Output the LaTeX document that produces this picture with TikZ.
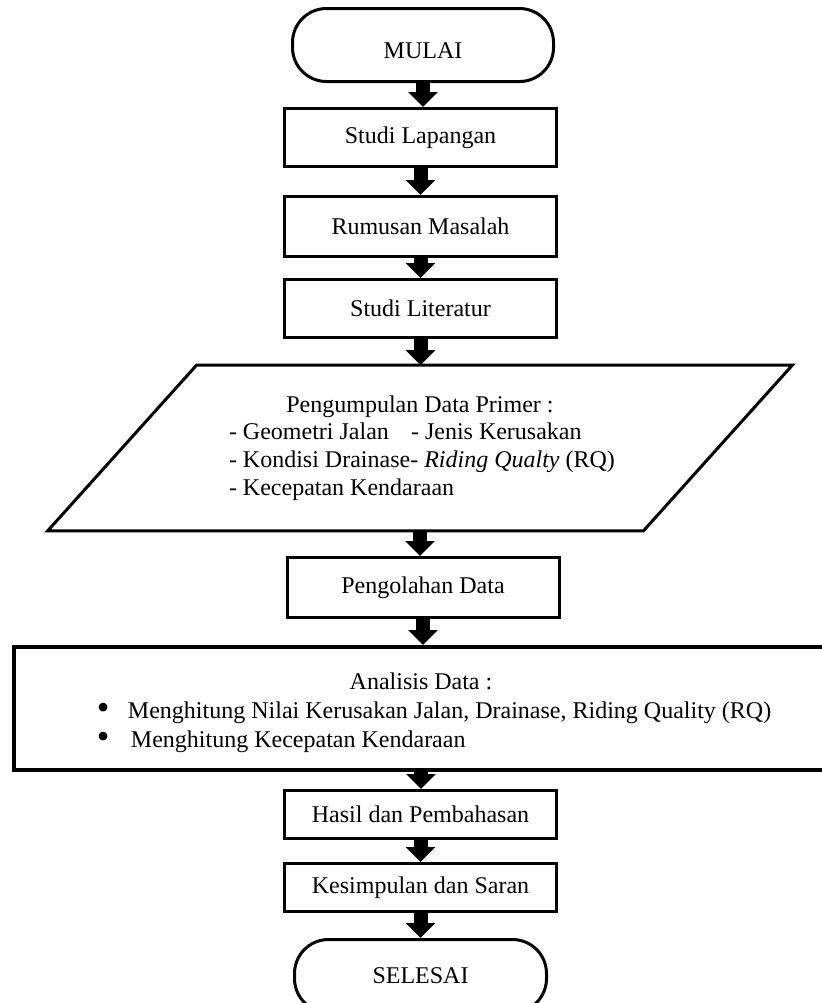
\documentclass[tikz,border=0pt]{standalone}
\usepackage{fontspec}
\setmainfont{Liberation Serif}
\usepackage{tikz}
\usetikzlibrary{arrows.meta}

\newcommand{\bigdot}{\raisebox{-0.4pt}{\scalebox{1.5}{\textbullet}}}

\tikzset{
  procbox/.style={draw,line width=1.5pt,minimum width=136pt,inner sep=2pt},
  termbox/.style={draw,line width=1.5pt,rounded corners=17pt,minimum width=130.5pt,minimum height=36.5pt},
  iobody/.style={minimum width=297.5pt,minimum height=82.5pt,inner sep=2pt},
  ioline/.style={line width=1.5pt,line join=miter},
  flowarr/.style={line width=7pt,-{Triangle[width=14.5pt,length=7.5pt]}},
}

\begin{document}
\begin{tikzpicture}[x=0.5pt,y=-0.5pt,font=\fontsize{12}{13.8}\selectfont]
  \useasboundingbox (0,0) rectangle (822,1003);
  \node[termbox,text height=14pt] (mulai) at (423,45) {MULAI};
  \node[procbox,minimum height=29pt] (lapangan) at (420.5,137.5) {Studi Lapangan};
  \node[procbox,minimum height=30pt] (rumusan) at (420.5,226.5) {Rumusan Masalah};
  \node[procbox,minimum height=29pt] (literatur) at (420.5,308.5) {Studi Literatur};
  \node[iobody,align=center] (pgdata) at (420,448) {Pengumpulan Data Primer :\\
    \makebox[191pt][l]{\makebox[91pt][l]{- Geometri Jalan}- Jenis Kerusakan}\\
    \makebox[191pt][l]{- Kondisi Drainase- \textit{Riding Qualty} (RQ)}\\
    \makebox[191pt][l]{- Kecepatan Kendaraan}};
  \draw[ioline] ([xshift=37.25pt]pgdata.north west) -- ([xshift=37.25pt]pgdata.north east)
    -- ([xshift=-37.25pt]pgdata.south east) -- ([xshift=-37.25pt]pgdata.south west) -- cycle;
  \node[procbox,minimum height=30pt] (olah) at (423,587.5) {Pengolahan Data};
  \node[procbox,line width=2pt,minimum width=407pt,minimum height=61.5pt,align=center,
    font=\fontsize{12}{14.5}\selectfont] (analisis) at (421,708.5) {\rule{0pt}{13pt}Analisis Data :\\
    \makebox[324pt][l]{\makebox[15.5pt][l]{\bigdot}Menghitung Nilai Kerusakan Jalan, Drainase, Riding Quality (RQ)}\\
    \makebox[324pt][l]{\makebox[17pt][l]{\bigdot}Menghitung Kecepatan Kendaraan}}; % right edge runs off the page
  \node[procbox,minimum height=24pt] (hasil) at (420.5,814.5) {Hasil dan Pembahasan};
  \node[procbox,minimum height=24pt] (simpul) at (420.5,887.5) {Kesimpulan dan Saran};
  \node[termbox,minimum width=126pt] (selesai) at (420.5,976) {SELESAI};
  \foreach \a/\b in {mulai/lapangan,lapangan/rumusan,rumusan/literatur,literatur/pgdata,
    pgdata/olah,olah/analisis,analisis/hasil,hasil/simpul,simpul/selesai}
    \draw[flowarr] (\a.south) -- (\a.south |- \b.north);
\end{tikzpicture}
\end{document}
